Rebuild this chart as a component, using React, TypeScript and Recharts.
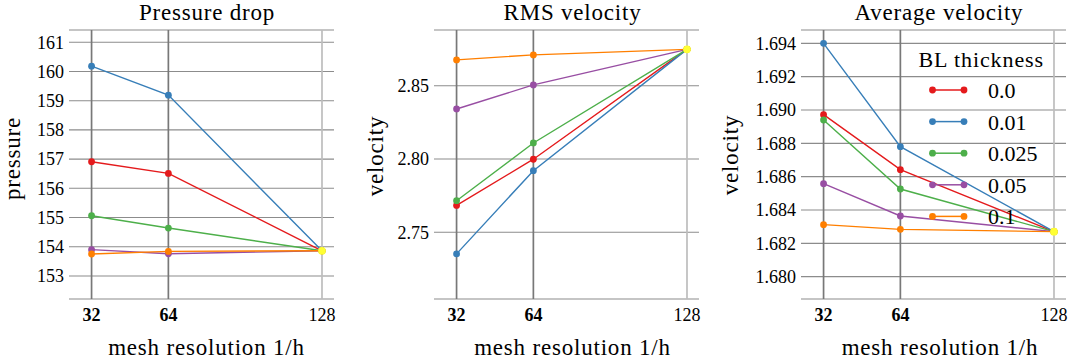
import React from 'react';
import {
    LineChart,
    Line,
    XAxis,
    YAxis,
    CartesianGrid,
    ReferenceLine
} from 'recharts';

// --- Data ---

const resolutions = [32, 64, 128];
const thicknessLabels = ['0.0', '0.01', '0.025', '0.05', '0.1'];
const seriesColors = ['#e41a1c', '#377eb8', '#4daf4a', '#984ea3', '#ff7f00'];
const refColor = '#ffff33';

// pressure drop, one array per BL thickness
const pressure00 = [156.91, 156.51, 153.86];
const pressure001 = [160.18, 159.19, 153.86];
const pressure0025 = [155.06, 154.64, 153.86];
const pressure005 = [153.9, 153.76, 153.86];
const pressure01 = [153.75, 153.84, 153.86];
const pressureRef = 153.86;
const pressureTicks = [153, 154, 155, 156, 157, 158, 159, 160, 161];

// RMS velocity
const rms00 = [2.7683, 2.7998, 2.8748];
const rms001 = [2.7352, 2.792, 2.8748];
const rms0025 = [2.7715, 2.8109, 2.8748];
const rms005 = [2.8341, 2.8505, 2.8748];
const rms01 = [2.8676, 2.871, 2.8748];
const rmsRef = 2.8748;
const rmsTicks = [2.75, 2.8, 2.85];

// average velocity
const avg00 = [1.68972, 1.68642, 1.6827];
const avg001 = [1.694, 1.6878, 1.6827];
const avg0025 = [1.6894, 1.68526, 1.6827];
const avg005 = [1.68558, 1.68364, 1.6827];
const avg01 = [1.68312, 1.68284, 1.6827];
const avgRef = 1.6827;
const avgTicks = [1.68, 1.682, 1.684, 1.686, 1.688, 1.69, 1.692, 1.694];

const FONT = 'Liberation Serif';

const buildRows = (series: number[][], ref: number) =>
    resolutions.map((res, i) => {
        const row: any = { res };
        series.forEach((s, k) => {
            row[`s${k}`] = s[i];
        });
        row.ref = res === resolutions[resolutions.length - 1] ? ref : null;
        return row;
    });

const XTick = ({ x, y, payload }: any) => (
    <text
        x={x}
        y={y + 20}
        textAnchor="middle"
        fill="#000"
        style={{ fontFamily: FONT, fontSize: 18, fontWeight: payload.value === 128 ? 'normal' : 'bold' }}
    >
        {payload.value}
    </text>
);

interface PanelProps {
    left: number;
    width: number;
    yAxisWidth: number;
    rightMargin: number;
    rows: any[];
    domain: [number, number];
    ticks: number[];
    digits: number;
}

const Panel: React.FC<PanelProps> = ({ left, width, yAxisWidth, rightMargin, rows, domain, ticks, digits }) => (
    <div style={{ position: 'absolute', left, top: 0, fontFamily: FONT }}>
        <LineChart
            width={width}
            height={363}
            data={rows}
            margin={{ top: 30, right: rightMargin, left: 0, bottom: 0 }}
            style={{ fontFamily: FONT }}
        >
            <CartesianGrid vertical={false} stroke="#8c8c8c" strokeWidth={1.1} />
            <ReferenceLine x={32} stroke="#787878" strokeWidth={1.7} />
            <ReferenceLine x={64} stroke="#787878" strokeWidth={1.7} />
            <ReferenceLine x={128} stroke="#bdbdbd" strokeWidth={1.7} />
            <XAxis
                dataKey="res"
                type="number"
                domain={[22.6, 133]}
                ticks={resolutions}
                allowDataOverflow
                axisLine={false}
                tickLine={false}
                tickSize={0}
                height={64}
                tick={<XTick />}
            />
            <YAxis
                type="number"
                domain={domain}
                ticks={ticks}
                allowDataOverflow
                axisLine={false}
                tickLine={false}
                tickSize={0}
                tickMargin={5}
                width={yAxisWidth}
                tick={{ fill: '#000', fontSize: 18, style: { fontFamily: FONT } }}
                tickFormatter={(v: number) => v.toFixed(digits)}
            />
            {seriesColors.map((c, k) => (
                <Line
                    key={k}
                    type="linear"
                    dataKey={`s${k}`}
                    stroke={c}
                    strokeWidth={1.4}
                    dot={{ r: 3.4, fill: c, stroke: 'none' }}
                    isAnimationActive={false}
                />
            ))}
            <Line
                type="linear"
                dataKey="ref"
                stroke="none"
                dot={{ r: 3.9, fill: refColor, stroke: 'none' }}
                isAnimationActive={false}
            />
        </LineChart>
    </div>
);

const labelStyle = { fontFamily: FONT, fontSize: 23, letterSpacing: 0.8 };

export default function App() {
    const pressureRows = buildRows([pressure00, pressure001, pressure0025, pressure005, pressure01], pressureRef);
    const rmsRows = buildRows([rms00, rms001, rms0025, rms005, rms01], rmsRef);
    const avgRows = buildRows([avg00, avg001, avg0025, avg005, avg01], avgRef);

    return (
        <div style={{ position: 'absolute', left: 0, top: 0, width: 1071, height: 363, background: '#fff', overflow: 'hidden', fontFamily: FONT }}>
            <Panel left={0} width={345} yAxisWidth={69} rightMargin={11} rows={pressureRows} domain={[152.21, 161.42]} ticks={pressureTicks} digits={0} />
            <Panel left={355} width={355} yAxisWidth={79} rightMargin={11} rows={rmsRows} domain={[2.7044, 2.888]} ticks={rmsTicks} digits={2} />
            <Panel left={710} width={361} yAxisWidth={91} rightMargin={5} rows={avgRows} domain={[1.67866, 1.6948]} ticks={avgTicks} digits={3} />

            <svg width={1071} height={363} style={{ position: 'absolute', left: 0, top: 0, pointerEvents: 'none', fontFamily: FONT }}>
                {/* titles */}
                <text x={207} y={20} textAnchor="middle" style={labelStyle}>Pressure drop</text>
                <text x={572.5} y={20} textAnchor="middle" style={labelStyle}>RMS velocity</text>
                <text x={939} y={20} textAnchor="middle" style={labelStyle}>Average velocity</text>

                {/* x axis labels */}
                <text x={206.5} y={355} textAnchor="middle" style={labelStyle}>mesh resolution 1/h</text>
                <text x={572.5} y={355} textAnchor="middle" style={labelStyle}>mesh resolution 1/h</text>
                <text x={940} y={355} textAnchor="middle" style={labelStyle}>mesh resolution 1/h</text>

                {/* y axis labels */}
                <text transform="translate(20,158.5) rotate(-90)" textAnchor="middle" style={labelStyle}>pressure</text>
                <text transform="translate(383,156) rotate(-90)" textAnchor="middle" style={labelStyle}>velocity</text>
                <text transform="translate(738,155) rotate(-90)" textAnchor="middle" style={labelStyle}>velocity</text>

                {/* legend */}
                <text x={918.5} y={67} style={{ fontFamily: FONT, fontSize: 22, letterSpacing: 0.9 }}>BL thickness</text>
                {thicknessLabels.map((lab, k) => {
                    const y = 90 + k * 31.6;
                    return (
                        <g key={lab}>
                            <line x1={932.5} x2={964} y1={y} y2={y} stroke={seriesColors[k]} strokeWidth={1.5} />
                            <circle cx={932.5} cy={y} r={3.4} fill={seriesColors[k]} />
                            <circle cx={964} cy={y} r={3.4} fill={seriesColors[k]} />
                            <text x={988} y={y + 8} style={{ fontFamily: FONT, fontSize: 22 }}>{lab}</text>
                        </g>
                    );
                })}
            </svg>
        </div>
    );
}
